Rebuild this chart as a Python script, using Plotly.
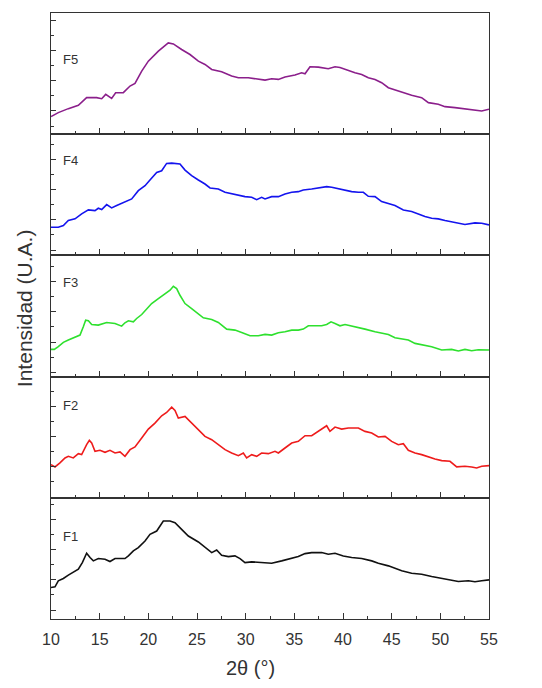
import plotly.graph_objects as go
from plotly.subplots import make_subplots

# ---------------- data (2θ in degrees, intensity in arbitrary units) ----------------
two_theta_F5 = [10.00, 10.75, 11.78, 12.81, 13.66, 14.69, 15.21, 15.62, 16.23, 16.64,
                17.43, 18.12, 18.63, 19.32, 20.00, 21.03, 22.05, 22.57, 23.42, 24.28,
                25.14, 25.82, 26.51, 27.53, 28.56, 29.25, 30.27, 30.96, 31.99, 32.67,
                33.36, 34.04, 35.07, 35.75, 36.10, 36.61, 37.47, 38.49, 39.18, 39.69,
                40.38, 41.23, 41.92, 42.60, 43.29, 43.97, 44.66, 45.68, 46.37, 47.05,
                48.08, 48.77, 49.79, 50.48, 51.51, 52.53, 53.56, 54.25, 55.00]
intensity_F5 = [53, 65, 77, 87, 110, 110, 107, 120, 108, 125,
                125, 145, 153, 190, 220, 250, 275, 272, 255, 240,
                220, 210, 195, 188, 175, 170, 170, 167, 163, 167,
                165, 172, 178, 185, 182, 203, 202, 197, 203, 201,
                193, 185, 180, 170, 165, 155, 140, 130, 125, 117,
                110, 95, 90, 83, 80, 77, 73, 70, 75]

two_theta_F4 = [10.00, 10.75, 11.27, 11.78, 12.47, 13.15, 13.84, 14.52, 14.86, 15.21,
                15.72, 16.23, 16.75, 17.60, 18.29, 18.97, 19.66, 20.17, 20.86, 21.37,
                21.88, 22.40, 23.25, 23.77, 24.45, 25.14, 25.82, 26.34, 27.19, 27.88,
                28.56, 29.25, 29.93, 30.62, 31.13, 31.64, 31.99, 32.67, 33.36, 34.04,
                34.73, 35.41, 35.92, 36.78, 37.47, 38.32, 38.84, 39.52, 40.21, 40.89,
                41.58, 42.09, 42.60, 43.29, 43.97, 44.66, 45.34, 46.20, 47.05, 47.74,
                48.42, 49.11, 49.79, 50.48, 51.51, 52.53, 53.56, 54.25, 55.00]
intensity_F4 = [85, 85, 90, 105, 110, 125, 137, 135, 142, 138,
                153, 143, 150, 160, 170, 195, 210, 227, 250, 255,
                277, 278, 275, 257, 240, 227, 215, 203, 200, 190,
                185, 180, 177, 175, 168, 175, 170, 177, 177, 185,
                190, 192, 197, 200, 203, 207, 205, 200, 195, 192,
                190, 190, 178, 177, 162, 157, 150, 137, 132, 125,
                117, 112, 110, 105, 100, 93, 98, 97, 92]

two_theta_F3 = [10.00, 10.34, 10.75, 11.27, 11.78, 12.47, 12.98, 13.32, 13.56, 13.84,
                14.18, 14.86, 15.72, 16.58, 17.26, 17.60, 17.95, 18.46, 18.80, 19.32,
                19.83, 20.34, 21.03, 21.71, 22.23, 22.57, 22.91, 23.25, 23.77, 24.45,
                25.14, 25.65, 26.51, 27.19, 28.05, 28.90, 29.59, 30.45, 31.30, 31.99,
                32.67, 33.36, 34.04, 34.73, 35.41, 35.92, 36.44, 37.81, 38.32, 38.77,
                39.18, 39.69, 40.21, 40.89, 41.58, 42.26, 43.29, 43.97, 44.66, 45.34,
                46.03, 46.71, 47.40, 48.42, 49.11, 50.14, 51.16, 51.85, 52.53, 53.22,
                53.90, 55.00]
intensity_F3 = [82, 82, 90, 103, 110, 120, 125, 150, 170, 168,
                157, 155, 163, 160, 152, 162, 168, 165, 175, 187,
                205, 220, 235, 250, 260, 272, 265, 245, 220, 205,
                190, 177, 172, 163, 143, 140, 133, 123, 123, 127,
                125, 132, 135, 140, 140, 143, 153, 153, 157, 165,
                160, 153, 157, 153, 147, 143, 135, 130, 127, 117,
                113, 110, 100, 95, 90, 80, 82, 77, 82, 78,
                81, 80]

two_theta_F2 = [10.00, 10.41, 10.92, 11.44, 11.78, 12.29, 12.81, 13.15, 13.66, 13.94,
                14.18, 14.52, 15.03, 15.55, 16.06, 16.58, 17.09, 17.60, 18.12, 18.63,
                19.32, 20.00, 20.68, 21.37, 21.88, 22.40, 22.74, 23.08, 23.77, 24.45,
                25.14, 25.82, 26.51, 27.19, 27.88, 28.56, 29.25, 29.76, 30.10, 30.62,
                31.13, 31.64, 32.33, 33.01, 33.36, 34.04, 34.73, 35.41, 36.10, 36.78,
                37.47, 38.32, 38.66, 39.18, 39.86, 40.55, 41.58, 42.26, 42.95, 43.63,
                44.32, 45.00, 45.68, 46.20, 46.71, 47.40, 48.08, 48.77, 49.45, 50.14,
                50.99, 51.68, 52.53, 53.22, 53.73, 54.25, 55.00]
intensity_F2 = [100, 93, 105, 120, 125, 120, 133, 130, 160, 173,
                165, 140, 143, 137, 143, 135, 138, 125, 145, 153,
                180, 207, 225, 247, 257, 273, 263, 240, 245, 225,
                205, 185, 175, 160, 145, 135, 127, 135, 120, 130,
                125, 135, 133, 140, 135, 150, 165, 170, 187, 187,
                200, 217, 200, 213, 207, 210, 210, 200, 195, 183,
                185, 170, 160, 163, 143, 135, 130, 123, 117, 112,
                110, 93, 95, 93, 90, 95, 97]

two_theta_F1 = [10.00, 10.41, 10.75, 11.27, 11.78, 12.29, 12.81, 13.22, 13.49, 13.66,
                14.01, 14.35, 14.86, 15.55, 16.06, 16.58, 17.60, 17.95, 18.46, 18.97,
                19.66, 20.17, 20.86, 21.20, 21.54, 22.23, 22.74, 23.42, 24.11, 25.14,
                25.82, 26.51, 27.02, 27.53, 28.22, 28.90, 29.42, 29.93, 30.62, 31.64,
                32.67, 33.70, 34.73, 35.41, 36.10, 36.78, 37.81, 38.49, 39.18, 40.03,
                40.89, 41.92, 42.95, 43.63, 44.66, 45.34, 46.03, 47.05, 48.08, 49.11,
                50.14, 50.82, 51.85, 52.88, 53.56, 54.25, 55.00]
intensity_F1 = [95, 97, 115, 122, 132, 140, 150, 170, 190, 198,
                185, 175, 182, 180, 173, 182, 182, 190, 205, 215,
                235, 255, 265, 280, 295, 295, 290, 270, 250, 232,
                215, 200, 208, 192, 188, 190, 182, 170, 172, 170,
                168, 175, 182, 188, 197, 200, 200, 195, 198, 190,
                185, 182, 175, 168, 160, 152, 145, 138, 135, 128,
                122, 120, 113, 115, 112, 115, 118]

sample_labels = ["F5", "F4", "F3", "F2", "F1"]
x_tick_values = [10, 15, 20, 25, 30, 35, 40, 45, 50, 55]
x_tick_labels = ["10", "15", "20", "25", "30", "35", "40", "45", "50", "55"]

# ---------------- styling ----------------
series = [
    (two_theta_F5, intensity_F5),
    (two_theta_F4, intensity_F4),
    (two_theta_F3, intensity_F3),
    (two_theta_F2, intensity_F2),
    (two_theta_F1, intensity_F1),
]
line_colors = ["#8B1F8B", "#1414EE", "#2EE02E", "#EE1C1C", "#111111"]
y_tick0 = [70, 16, 13, 3, 27]
label_ypos = [0.62, 0.78, 0.78, 0.76, 0.68]
axis_color = "#333333"
FONT = "Liberation Sans, Arial, sans-serif"

fig = make_subplots(rows=5, cols=1, shared_xaxes=True, vertical_spacing=0)

for i, ((xs, ys), col) in enumerate(zip(series, line_colors)):
    row = i + 1
    fig.add_trace(go.Scatter(x=xs, y=ys, mode="lines",
                             line=dict(color=col, width=1.6),
                             showlegend=False, hoverinfo="skip"),
                  row=row, col=1)
    fig.update_yaxes(range=[0, 365], showticklabels=False, showgrid=False,
                     zeroline=False, showline=True, mirror=True,
                     linecolor=axis_color, linewidth=1.1,
                     ticks="inside", ticklen=5, tickwidth=1, tickcolor=axis_color,
                     tick0=y_tick0[i], dtick=91,
                     minor=dict(ticks="inside", ticklen=3, tickwidth=1,
                                tickcolor=axis_color, tick0=y_tick0[i] + 45.5,
                                dtick=91, showgrid=False),
                     row=row, col=1)
    fig.update_xaxes(range=[10, 55], showgrid=False, zeroline=False,
                     showline=True, mirror=True, linecolor=axis_color, linewidth=1.1,
                     ticks="inside", ticklen=6, tickwidth=1, tickcolor=axis_color,
                     tickmode="array", tickvals=x_tick_values, ticktext=x_tick_labels,
                     minor=dict(ticks="inside", ticklen=3, tickwidth=1,
                                tickcolor=axis_color, dtick=2.5, tick0=12.5,
                                showgrid=False),
                     row=row, col=1)
    yref = "y domain" if row == 1 else f"y{row} domain"
    xref = "x" if row == 1 else f"x{row}"
    fig.add_annotation(x=11.0, y=label_ypos[i], xref=xref, yref=yref,
                       text=sample_labels[i], showarrow=False,
                       xanchor="left", yanchor="middle",
                       font=dict(family=FONT, size=13, color=axis_color))

fig.update_xaxes(showticklabels=True, tickfont=dict(family=FONT, size=16, color=axis_color),
                 ticklabelstandoff=6, row=5, col=1)

fig.add_annotation(text="2θ (°)", x=0.4566, y=-0.081, xref="paper", yref="paper",
                   showarrow=False, xanchor="center", yanchor="middle",
                   font=dict(family=FONT, size=20, color=axis_color))
fig.add_annotation(text="Intensidad (U.A.)", x=-0.0616, y=0.513, xref="paper", yref="paper",
                   showarrow=False, xanchor="center", yanchor="middle", textangle=-90,
                   font=dict(family=FONT, size=21, color=axis_color))

fig.update_layout(width=542, height=688,
                  margin=dict(l=51, r=53, t=13, b=69),
                  paper_bgcolor="white", plot_bgcolor="white",
                  font=dict(family=FONT, color=axis_color))

fig.write_html("out.html")
